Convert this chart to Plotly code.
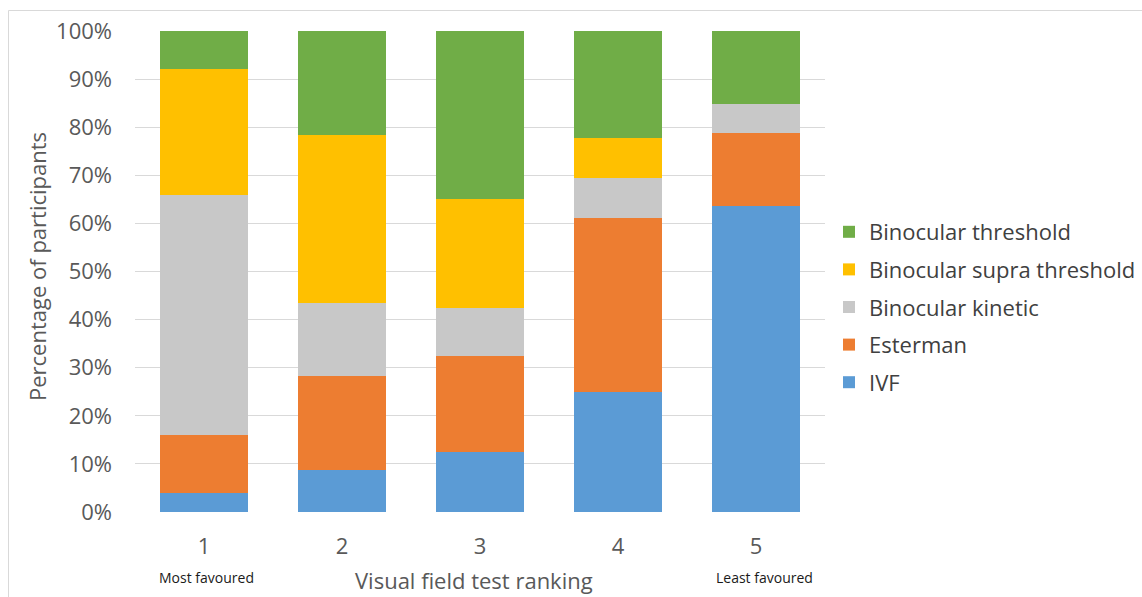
import plotly.graph_objects as go

# Ranking positions (1 = most favoured, 5 = least favoured)
rankings = ["1", "2", "3", "4", "5"]

# Share of participants (%) giving each test each ranking
ivf = [4.0, 8.7, 12.5, 25.0, 63.6]
esterman = [12.0, 19.6, 20.0, 36.1, 15.2]
binocular_kinetic = [50.0, 15.2, 10.0, 8.3, 6.1]
binocular_supra = [26.0, 34.8, 22.5, 8.3, 0.0]
binocular_threshold = [8.0, 21.7, 35.0, 22.2, 15.1]

series = [
    ("IVF", ivf, "#5B9BD5"),
    ("Esterman", esterman, "#ED7D31"),
    ("Binocular kinetic", binocular_kinetic, "#C8C8C8"),
    ("Binocular supra threshold", binocular_supra, "#FFC000"),
    ("Binocular threshold", binocular_threshold, "#70AD47"),
]

FONT = "Open Sans"
TEXT = "#595959"

fig = go.Figure()
for i, (name, vals, color) in enumerate(series):
    fig.add_trace(go.Bar(
        x=rankings, y=vals, name=name, legendgroup=name,
        legendrank=len(series) - i,
        marker=dict(color=color, line=dict(width=0)),
    ))

# plot area in pixels: x 135..825, y 31..512
L, R, T, B = 135, 1142 - 825, 31, 597 - 512
PW, PH = 825 - 135, 512 - 31


def px_x(px):
    return (px - L) / PW


def px_y(py):
    return (512 - py) / PH


fig.update_layout(
    width=1142, height=597,
    margin=dict(l=L, r=R, t=T, b=B, autoexpand=False),
    paper_bgcolor="white", plot_bgcolor="white",
    barmode="stack", bargap=0.36,
    font=dict(family=FONT, size=22, color=TEXT),
    showlegend=True,
    legend=dict(
        traceorder="grouped", tracegroupgap=6,
        x=px_x(829), xanchor="left", y=px_y(307), yanchor="middle",
        font=dict(family=FONT, size=22, color="#404040"),
        itemwidth=30,
    ),
    xaxis=dict(
        showgrid=False, showline=False, ticks="",
        tickfont=dict(size=22, color=TEXT), ticklabelstandoff=19,
    ),
    yaxis=dict(
        range=[0, 100], tickvals=list(range(0, 101, 10)),
        ticktext=[f"{v}%" for v in range(0, 101, 10)],
        showgrid=True, gridcolor="#D9D9D9", gridwidth=1,
        zeroline=False, showline=False, ticks="",
        tickfont=dict(size=22, color=TEXT), ticklabelstandoff=22,
    ),
    shapes=[
        # chart frame
        dict(type="line", xref="paper", yref="paper",
             x0=px_x(8.5), x1=px_x(1150), y0=px_y(10.5), y1=px_y(10.5),
             line=dict(color="#D9D9D9", width=1)),
        dict(type="line", xref="paper", yref="paper",
             x0=px_x(8.5), x1=px_x(8.5), y0=px_y(10.5), y1=px_y(610),
             line=dict(color="#D9D9D9", width=1)),
    ],
    annotations=[
        dict(text="Percentage of participants", textangle=-90,
             xref="paper", yref="paper", x=px_x(37), y=px_y(267),
             xanchor="center", yanchor="middle", showarrow=False,
             font=dict(size=22, color=TEXT)),
        dict(text="Visual field test ranking",
             xref="paper", yref="paper", x=px_x(474), y=px_y(597),
             xanchor="center", yanchor="bottom", showarrow=False,
             font=dict(size=22, color=TEXT)),
        dict(text="Most favoured",
             xref="paper", yref="paper", x=px_x(206), y=px_y(577),
             xanchor="center", yanchor="middle", showarrow=False,
             font=dict(size=14, color="#1a1a1a")),
        dict(text="Least favoured",
             xref="paper", yref="paper", x=px_x(764), y=px_y(577),
             xanchor="center", yanchor="middle", showarrow=False,
             font=dict(size=14, color="#1a1a1a")),
    ],
)

fig.write_html("out.html")
